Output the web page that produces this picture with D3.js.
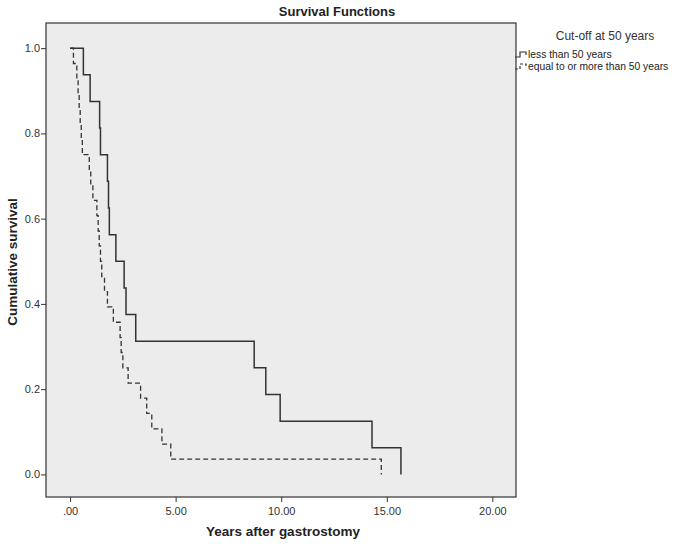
<!DOCTYPE html>
<html>
<head>
<meta charset="utf-8">
<script src="https://cdn.jsdelivr.net/npm/d3@7"></script>
<style>
  body { margin: 0; background: #fff; }
  text { font-family: "Liberation Sans", Arial, sans-serif; }
</style>
</head>
<body>
<div id="chart"></div>
<script>
// ===== Kaplan-Meier curves =====
var groups = ["less than 50 years", "equal to or more than 50 years"];

// less than 50 years (solid)
var timesUnder50 = [0, 0.63, 0.95, 1.40, 1.44, 1.77, 1.82, 1.86, 2.17, 2.56, 2.65, 3.11, 8.72, 9.27, 9.95, 14.30, 15.67];
var survUnder50  = [1, 0.9375, 0.875, 0.8125, 0.75, 0.6875, 0.625, 0.5625, 0.5, 0.4375, 0.375, 0.3125, 0.25, 0.1875, 0.125, 0.0625, 0];

// equal to or more than 50 years (dashed)
var timesOver50 = [0, 0.16, 0.32, 0.38, 0.43, 0.48, 0.53, 0.58, 0.91, 0.98, 1.08, 1.27, 1.33, 1.38, 1.44, 1.50,
                   1.63, 1.77, 2.05, 2.37, 2.42, 2.50, 2.75, 3.34, 3.63, 3.87, 4.35, 4.77, 14.74];
var survOver50  = [1, 0.964, 0.929, 0.893, 0.857, 0.821, 0.786, 0.75, 0.714, 0.679, 0.643, 0.607, 0.571, 0.536, 0.5, 0.464,
                   0.429, 0.393, 0.357, 0.321, 0.286, 0.25, 0.214, 0.179, 0.143, 0.107, 0.071, 0.036, 0];

var xTicks = [0, 5, 10, 15, 20];
var xTickLabels = [".00", "5.00", "10.00", "15.00", "20.00"];
var yTicks = [0, 0.2, 0.4, 0.6, 0.8, 1.0];

function draw()
{
  var w = 680;
  var h = 544;

  var svg = d3.select("#chart")
              .append("svg")
              .attr("width", w)
              .attr("height", h);

  // plot box edges sit a little outside the data range, like SPSS does
  var x = d3.scaleLinear()
            .domain([-1.14, 21.12])
            .range([46, 516]);

  var y = d3.scaleLinear()
            .domain([-0.053, 1.059])
            .range([497, 23]);

  // grey plot background with frame
  svg.append("rect")
     .attr("x", x.range()[0])
     .attr("y", y.range()[1])
     .attr("width", x.range()[1] - x.range()[0])
     .attr("height", y.range()[0] - y.range()[1])
     .attr("fill", "#ececec")
     .attr("stroke", "#333")
     .attr("stroke-width", 1.2);

  // x axis
  var xAxis = d3.axisBottom(x)
                .tickValues(xTicks)
                .tickSize(5)
                .tickFormat(function(d, i) { return xTickLabels[i]; });

  var gx = svg.append("g")
              .attr("transform", "translate(0," + y.range()[0] + ")")
              .call(xAxis);
  gx.select(".domain").remove();
  gx.selectAll("line").attr("stroke", "#333");
  gx.selectAll("text")
    .attr("font-size", "11px")
    .attr("fill", "#333")
    .attr("dy", "0.9em");

  // y axis
  var yAxis = d3.axisLeft(y)
                .tickValues(yTicks)
                .tickSize(5)
                .tickFormat(d3.format(".1f"));

  var gy = svg.append("g")
              .attr("transform", "translate(" + x.range()[0] + ",0)")
              .call(yAxis);
  gy.select(".domain").remove();
  gy.selectAll("line").attr("stroke", "#333");
  gy.selectAll("text")
    .attr("font-size", "11px")
    .attr("fill", "#333")
    .attr("x", -6);

  // step curves
  var line = d3.line()
               .x(function(d) { return x(d[0]); })
               .y(function(d) { return y(d[1]); })
               .curve(d3.curveStepAfter);

  var under = d3.zip(timesUnder50, survUnder50);
  var over = d3.zip(timesOver50, survOver50);

  svg.append("path")
     .attr("d", line(over))
     .attr("fill", "none")
     .attr("stroke", "#333")
     .attr("stroke-width", 1.3)
     .attr("stroke-dasharray", "5,3");

  svg.append("path")
     .attr("d", line(under))
     .attr("fill", "none")
     .attr("stroke", "#333")
     .attr("stroke-width", 1.5);

  // titles
  svg.append("text")
     .attr("x", 337)
     .attr("y", 16)
     .attr("text-anchor", "middle")
     .attr("font-size", "13px")
     .attr("font-weight", "bold")
     .attr("fill", "#222")
     .text("Survival Functions");

  svg.append("text")
     .attr("x", (x.range()[0] + x.range()[1]) / 2 + 2)
     .attr("y", 536)
     .attr("text-anchor", "middle")
     .attr("font-size", "13.5px")
     .attr("font-weight", "bold")
     .attr("fill", "#222")
     .text("Years after gastrostomy");

  svg.append("text")
     .attr("transform", "translate(17," + 262 + ") rotate(-90)")
     .attr("text-anchor", "middle")
     .attr("font-size", "13.5px")
     .attr("font-weight", "bold")
     .attr("fill", "#222")
     .text("Cumulative survival");

  // legend
  svg.append("text")
     .attr("x", 605)
     .attr("y", 40)
     .attr("text-anchor", "middle")
     .attr("font-size", "12px")
     .attr("fill", "#333")
     .text("Cut-off at 50 years");

  var legend = svg.selectAll("g.legend")
                  .data(groups)
                  .enter()
                  .append("g")
                  .attr("class", "legend")
                  .attr("transform", function(d, i) { return "translate(515," + (54 + i * 12) + ")"; });

  legend.append("path")
        .attr("d", "M0,3H5V-2H11V1")
        .attr("fill", "none")
        .attr("stroke", "#333")
        .attr("stroke-width", 1.2)
        .attr("stroke-dasharray", function(d, i) { return i == 1 ? "3,2" : null; });

  legend.append("text")
        .attr("x", 13)
        .attr("y", 3.5)
        .attr("font-size", "10.3px")
        .attr("fill", "#222")
        .text(function(d) { return d; });
}

window.onload = draw;
</script>
</body>
</html>
